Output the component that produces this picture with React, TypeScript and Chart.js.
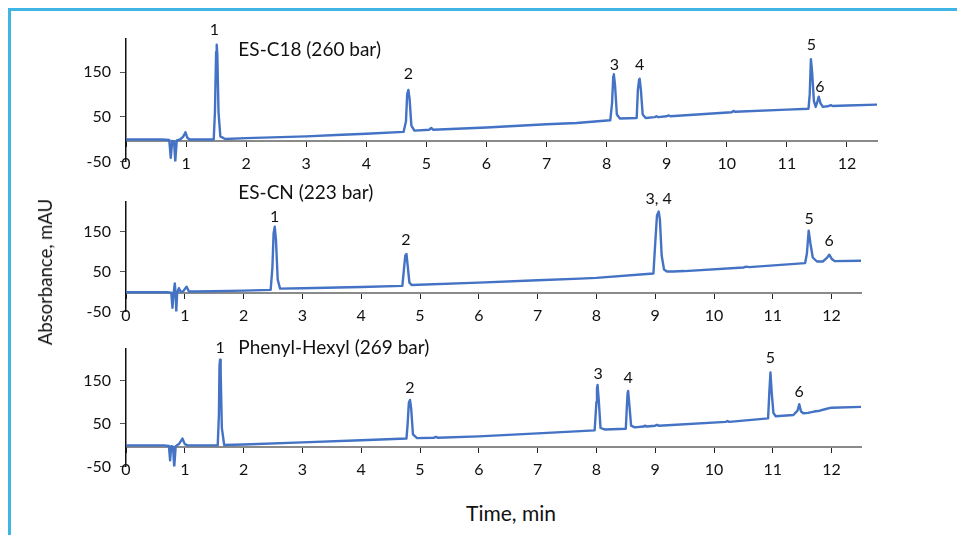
import React, { useEffect, useRef } from "react";
import { Chart, registerables } from "chart.js";

Chart.register(...registerables);

const FONT = "Lato, 'Noto Sans', sans-serif";
const LINE_COLOR = "#4472C4";

// Axis ticks
const xTicks = [0, 1, 2, 3, 4, 5, 6, 7, 8, 9, 10, 11, 12];
const yTicks = [-50, 50, 150];
const xMin = 0;
const xMax = 12.5;
const yMin = -50;
const yMax = 224;
const xAxisAt = -5;

// ES-C18 (260 bar)
const c18Time = [0, 0.6, 0.72, 0.745, 0.77, 0.8, 0.82, 0.845, 0.9, 0.95, 0.99, 1.02, 1.06, 1.46, 1.48, 1.5, 1.51, 1.52, 1.54, 1.57, 1.65, 2.0, 3.0, 3.5, 4.0, 4.62, 4.66, 4.68, 4.7, 4.72, 4.75, 4.8, 5.05, 5.08, 5.11, 6.0, 7.0, 7.5, 8.06, 8.09, 8.11, 8.12, 8.14, 8.17, 8.22, 8.5, 8.52, 8.54, 8.55, 8.57, 8.6, 8.65, 8.8, 8.83, 8.86, 9.0, 9.03, 9.06, 10.08, 10.11, 10.14, 11.0, 11.36, 11.38, 11.4, 11.42, 11.45, 11.48, 11.51, 11.53, 11.56, 11.6, 11.7, 11.73, 11.76, 12.0, 12.5];
const c18Abs = [-1, -1, -2, -42, -4, -5, -50, -3, -1, 5, 15, 3, -1, -1, 60, 195, 211, 190, 60, 6, 0, 2, 6, 9, 12, 16, 40, 100, 110, 90, 30, 19, 21, 25, 21, 26, 33, 36, 42, 80, 140, 145, 120, 55, 46, 47, 110, 133, 135, 110, 55, 47, 49, 51, 49, 51, 53, 51, 60, 63, 61, 66, 68, 100, 179, 150, 85, 72, 85, 95, 80, 72, 74, 76, 74, 75, 77];

// ES-CN (223 bar)
const cnTime = [0, 0.7, 0.77, 0.79, 0.81, 0.83, 0.845, 0.855, 0.87, 0.9, 0.93, 0.97, 1.03, 1.07, 1.2, 2.0, 2.46, 2.49, 2.51, 2.53, 2.55, 2.58, 2.62, 3.0, 4.0, 4.7, 4.73, 4.75, 4.77, 4.79, 4.82, 4.86, 6.0, 7.0, 7.72, 8.0, 8.97, 9.0, 9.03, 9.06, 9.08, 9.11, 9.15, 9.2, 9.3, 9.5, 10.5, 10.55, 10.6, 11.55, 11.58, 11.61, 11.64, 11.68, 11.75, 11.85, 11.92, 11.96, 12.0, 12.05, 12.5];
const cnAbs = [-2, -2, -3, -41, -5, 20, -8, -50, -4, 8, -1, 0, 12, 0, 0, 2, 4, 60, 145, 162, 130, 30, 7, 8, 11, 14, 60, 90, 94, 65, 22, 16, 22, 28, 32, 34, 45, 120, 190, 200, 180, 90, 55, 50, 50, 51, 60, 62, 61, 71, 95, 152, 120, 85, 75, 75, 84, 92, 82, 76, 77];

// Phenyl-Hexyl (269 bar)
const phTime = [0, 0.65, 0.73, 0.75, 0.77, 0.8, 0.82, 0.845, 0.9, 0.96, 1.0, 1.05, 1.56, 1.58, 1.59, 1.6, 1.61, 1.63, 1.67, 2.0, 3.0, 4.0, 4.77, 4.79, 4.81, 4.83, 4.85, 4.88, 4.95, 5.24, 5.27, 5.3, 6.0, 7.0, 7.97, 8.0, 8.01, 8.02, 8.04, 8.07, 8.15, 8.5, 8.52, 8.53, 8.54, 8.56, 8.59, 8.65, 8.8, 8.83, 8.86, 9.0, 9.03, 9.06, 10.2, 10.23, 10.26, 10.92, 10.94, 10.96, 10.98, 11.01, 11.05, 11.35, 11.42, 11.45, 11.48, 11.52, 11.6, 11.7, 11.8, 11.9, 12.0, 12.5];
const phAbs = [-1, -1, -2, -36, -3, -4, -52, -3, 2, 15, 2, -1, -1, 70, 185, 199, 170, 40, 0, 1, 6, 11, 15, 50, 98, 105, 85, 25, 16, 17, 19, 17, 20, 27, 34, 100, 132, 140, 105, 40, 36, 38, 95, 120, 126, 95, 45, 41, 43, 45, 43, 45, 47, 45, 54, 56, 54, 62, 120, 169, 125, 75, 67, 70, 80, 95, 78, 74, 75, 78, 80, 84, 87, 89];

// Text annotations (label text, time, absorbance)
const c18LabelText = ["1", "2", "3", "4", "5", "6"];
const c18LabelTime = [1.47, 4.7, 8.13, 8.55, 11.41, 11.55];
const c18LabelAbs = [244, 145, 167, 167, 211, 116];
const c18Title = "ES-C18 (260 bar)";
const c18TitleAt = [1.87, 200];

const cnLabelText = ["1", "2", "3, 4", "5", "6"];
const cnLabelTime = [2.53, 4.76, 9.06, 11.62, 11.96];
const cnLabelAbs = [187, 129, 233, 183, 127];
const cnTitle = "ES-CN (223 bar)";
const cnTitleAt = [1.91, 246];

const phLabelText = ["1", "2", "3", "4", "5", "6"];
const phLabelTime = [1.6, 4.83, 8.03, 8.54, 10.96, 11.45];
const phLabelAbs = [226, 134, 166, 156, 203, 124];
const phTitle = "Phenyl-Hexyl (269 bar)";
const phTitleAt = [1.91, 226];

type Panel = {
  time: number[];
  abs: number[];
  labelText: string[];
  labelTime: number[];
  labelAbs: number[];
  title: string;
  titleAt: number[];
  canvasTop: number;
  canvasHeight: number;
  padTop: number;
  padRight: number;
  xAxisHeight: number;
};

const panels: Panel[] = [
  { time: c18Time, abs: c18Abs, labelText: c18LabelText, labelTime: c18LabelTime, labelAbs: c18LabelAbs, title: c18Title, titleAt: c18TitleAt, canvasTop: 15, canvasHeight: 165, padTop: 24, padRight: 80, xAxisHeight: 16.5 },
  { time: cnTime, abs: cnAbs, labelText: cnLabelText, labelTime: cnLabelTime, labelAbs: cnLabelAbs, title: cnTitle, titleAt: cnTitleAt, canvasTop: 178, canvasHeight: 152, padTop: 24, padRight: 96, xAxisHeight: 18.3 },
  { time: phTime, abs: phAbs, labelText: phLabelText, labelTime: phLabelTime, labelAbs: phLabelAbs, title: phTitle, titleAt: phTitleAt, canvasTop: 330, canvasHeight: 155, padTop: 19, padRight: 96, xAxisHeight: 19.1 },
];

function PanelChart({ panel }: { panel: Panel }) {
  const ref = useRef<HTMLCanvasElement | null>(null);
  useEffect(() => {
    if (!ref.current) return;
    const textPlugin = {
      id: "peakText",
      afterDatasetsDraw(chart: any) {
        const ctx = chart.ctx;
        const xs = chart.scales.x;
        const ys = chart.scales.y;
        ctx.save();
        ctx.fillStyle = "#111";
        ctx.textBaseline = "middle";
        ctx.font = `16px ${FONT}`;
        ctx.textAlign = "center";
        panel.labelText.forEach((t, i) => {
          ctx.fillText(t, xs.getPixelForValue(panel.labelTime[i]), ys.getPixelForValue(panel.labelAbs[i]));
        });
        ctx.font = `19px ${FONT}`;
        ctx.textAlign = "left";
        ctx.fillText(panel.title, xs.getPixelForValue(panel.titleAt[0]), ys.getPixelForValue(panel.titleAt[1]));
        ctx.restore();
      },
    };
    const chart = new Chart(ref.current, {
      type: "line",
      data: {
        datasets: [
          {
            data: panel.time.map((t, i) => ({ x: t, y: panel.abs[i] })),
            borderColor: LINE_COLOR,
            borderWidth: 2.4,
            pointRadius: 0,
            tension: 0,
            borderJoinStyle: "round",
            borderCapStyle: "round",
            fill: false,
          },
        ],
      },
      options: {
        animation: false,
        responsive: false,
        devicePixelRatio: 1,
        layout: { padding: { top: panel.padTop, right: panel.padRight, left: 0, bottom: 0 } },
        plugins: { legend: { display: false }, tooltip: { enabled: false } },
        scales: {
          x: {
            type: "linear",
            min: xMin,
            max: xMax,
            position: { y: xAxisAt } as any,
            afterBuildTicks: (s: any) => {
              s.ticks = xTicks.map((v) => ({ value: v }));
            },
            afterFit: (s: any) => {
              s.height = panel.xAxisHeight;
            },
            grid: { drawOnChartArea: false, drawTicks: true, tickLength: 5, color: "#222", lineWidth: 1 },
            border: { display: true, color: "#8a8a8a", width: 2 },
            ticks: { padding: 8, font: { family: FONT, size: 16 }, color: "#111", maxRotation: 0, autoSkip: false },
          },
          y: {
            type: "linear",
            min: yMin,
            max: yMax,
            afterBuildTicks: (s: any) => {
              s.ticks = yTicks.map((v) => ({ value: v }));
            },
            afterFit: (s: any) => {
              s.width = 126;
            },
            grid: { drawOnChartArea: false, drawTicks: true, tickLength: 6, color: "#555", lineWidth: 1 },
            border: { display: true, color: "#111", width: 1.5 },
            ticks: { padding: 9, font: { family: FONT, size: 16 }, color: "#111", autoSkip: false },
          },
        },
      },
      plugins: [textPlugin],
    });
    return () => chart.destroy();
  }, [panel]);
  return (
    <canvas
      ref={ref}
      width={957}
      height={panel.canvasHeight}
      style={{ position: "absolute", left: 0, top: panel.canvasTop, width: 957, height: panel.canvasHeight }}
    />
  );
}

export default function App() {
  return (
    <div style={{ position: "absolute", left: 0, top: 0, width: 957, height: 535, background: "#fff", overflow: "hidden", fontFamily: FONT, color: "#111" }}>
      <div style={{ position: "absolute", left: 8, top: 8, width: 949, height: 3, background: "#3FB4E5" }} />
      <div style={{ position: "absolute", left: 8, top: 8, width: 3, height: 527, background: "#3FB4E5" }} />
      {panels.map((p, i) => (
        <PanelChart key={i} panel={p} />
      ))}
      <div style={{ position: "absolute", left: 45, top: 272, transform: "translate(-50%, -50%) rotate(-90deg)", whiteSpace: "nowrap", fontSize: 18.5 }}>
        Absorbance, mAU
      </div>
      <div style={{ position: "absolute", left: 511, top: 512, transform: "translate(-50%, -50%)", whiteSpace: "nowrap", fontSize: 21 }}>
        Time, min
      </div>
    </div>
  );
}
